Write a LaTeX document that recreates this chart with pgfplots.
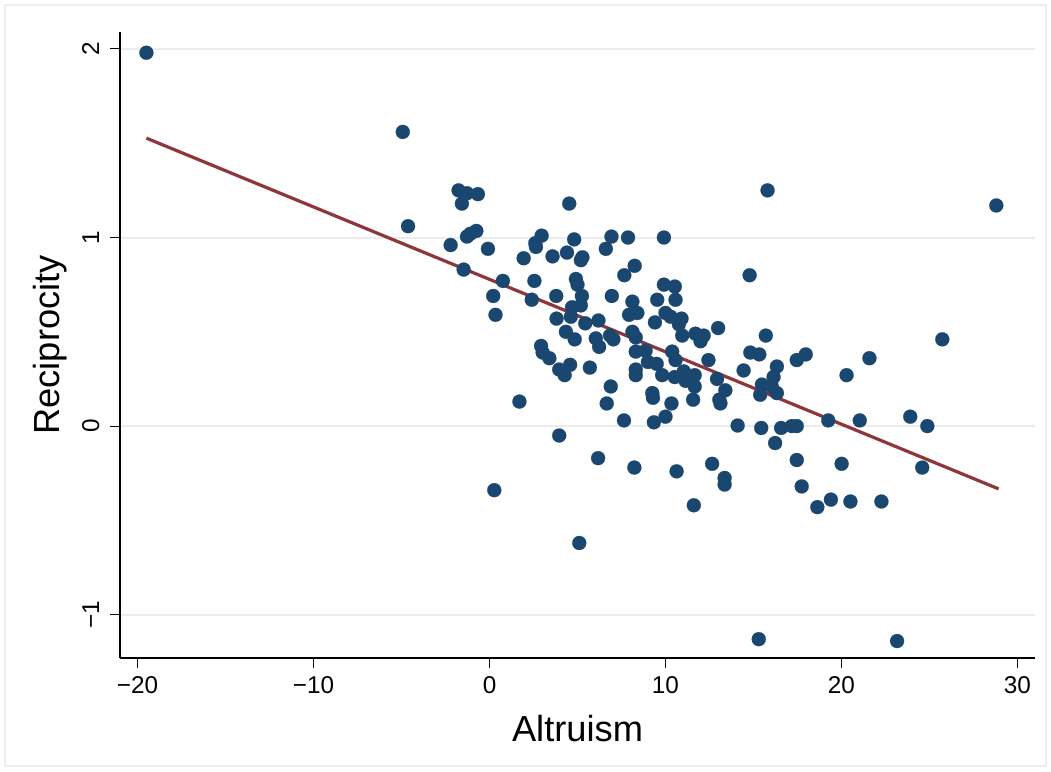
\documentclass[border=0pt]{standalone}
\usepackage{pgfplots}
\pgfplotsset{compat=1.18}
\usepackage{pgfplotstable}
\usepackage{fontspec}
\setmainfont{Liberation Sans}

\definecolor{stnavy}{RGB}{26,71,111}
\definecolor{stmaroon}{RGB}{144,53,59}
\definecolor{stgrid}{RGB}{236,236,236}
\definecolor{stframe}{RGB}{234,240,241}

% altruism vs reciprocity
\pgfplotstableread{
x y
-19.5 1.98
-4.93 1.56
-4.63 1.06
-1.76 1.25
-1.28 1.235
-0.66 1.23
-1.57 1.18
4.53 1.18
-0.75 1.035
-1.09 1.02
-1.28 1.005
2.96 1.01
4.81 0.99
-2.21 0.96
2.60 0.97
2.64 0.95
-0.09 0.94
3.58 0.90
4.40 0.92
1.94 0.89
5.28 0.895
5.19 0.88
-1.47 0.83
0.76 0.77
2.55 0.77
4.91 0.78
5.00 0.75
0.21 0.69
2.40 0.67
3.79 0.69
0.34 0.59
4.69 0.63
4.62 0.58
3.81 0.57
4.34 0.50
4.84 0.46
2.93 0.425
3.02 0.39
3.40 0.36
3.96 0.30
4.58 0.325
4.27 0.27
1.70 0.13
3.96 -0.05
0.27 -0.34
5.10 -0.62
15.8 1.25
6.93 1.005
7.87 1.00
9.91 1.00
6.61 0.94
8.25 0.85
7.66 0.80
14.78 0.80
9.91 0.75
10.53 0.74
6.95 0.69
5.25 0.69
9.53 0.67
10.57 0.67
8.12 0.66
5.19 0.64
7.93 0.59
8.40 0.60
10.0 0.60
10.29 0.58
10.91 0.57
9.40 0.55
5.44 0.545
6.19 0.56
10.76 0.54
12.99 0.52
8.12 0.50
8.31 0.47
6.85 0.48
7.04 0.46
6.04 0.465
6.23 0.42
10.95 0.48
11.70 0.49
12.17 0.48
11.99 0.45
15.70 0.48
14.82 0.39
15.33 0.38
10.38 0.395
8.31 0.395
8.87 0.40
10.57 0.35
12.44 0.35
9.00 0.34
5.70 0.31
14.44 0.295
8.31 0.30
9.50 0.33
11.04 0.29
8.31 0.27
9.81 0.27
10.53 0.26
11.66 0.27
11.14 0.24
11.66 0.21
12.93 0.25
13.40 0.19
13.06 0.14
13.12 0.12
15.48 0.22
15.38 0.166
6.89 0.21
6.66 0.12
9.25 0.175
9.29 0.15
10.34 0.12
11.57 0.14
7.64 0.03
9.34 0.02
10.0 0.05
14.10 0.003
15.44 -0.01
6.17 -0.17
8.23 -0.22
10.63 -0.24
12.65 -0.20
13.36 -0.275
13.36 -0.31
11.61 -0.42
28.8 1.17
16.33 0.316
17.46 0.35
17.97 0.38
21.59 0.36
25.73 0.46
20.29 0.27
16.14 0.26
16.04 0.21
16.33 0.175
19.25 0.03
21.04 0.03
23.91 0.05
24.88 0.00
16.57 -0.01
17.18 0.00
17.46 0.00
16.23 -0.09
17.46 -0.18
20.01 -0.20
24.59 -0.22
17.74 -0.32
18.63 -0.43
19.40 -0.39
20.51 -0.40
22.27 -0.40
15.30 -1.13
23.16 -1.14
}\scatterdata

\begin{document}
\begin{tikzpicture}[x=1bp,y=1bp]
\path[use as bounding box] (0,0) rectangle (525.5,385.5);
\draw[stframe, line width=1bp] (2.5,2.5) rectangle (523,383);
\begin{axis}[
    at={(60bp,56.5bp)}, anchor=south west,
    scale only axis, width=457.5bp, height=313bp,
    xmin=-21, xmax=31, ymin=-1.23, ymax=2.09,
    axis lines=left,
    axis line style={-, line width=0.6bp},
    tick align=outside,
    major tick length=5bp,
    tick style={black, line width=0.5bp},
    xtick={-20,-10,0,10,20,30},
    xticklabels={−20,−10,0,10,20,30},
    ytick={-1,0,1,2},
    yticklabels={−1,0,1,2},
    ymajorgrids=true,
    major grid style={stgrid, line width=1bp},
    tick label style={font=\fontsize{12.2}{14}\selectfont},
    xticklabel style={anchor=base, yshift=-12.5bp},
    yticklabel style={xshift=-5.5bp, rotate=90, anchor=base},
    label style={font=\fontsize{18.2}{21}\selectfont},
    xlabel={Altruism},
    xlabel style={at={(axis description cs:0.5,0)}, anchor=base, yshift=-41.5bp},
    ylabel={Reciprocity},
    ylabel style={at={(axis description cs:-0.0662,0.5)}, anchor=base},
]
\addplot[only marks, mark=*, mark size=3.5bp,
    mark options={fill=stnavy, draw=stnavy, line width=0.1bp}] table[x=x, y=y] {\scatterdata};
\addplot[stmaroon, line width=1.6bp, no marks] coordinates {(-19.5,1.527) (28.93,-0.333)};
\end{axis}
\end{tikzpicture}
\end{document}
